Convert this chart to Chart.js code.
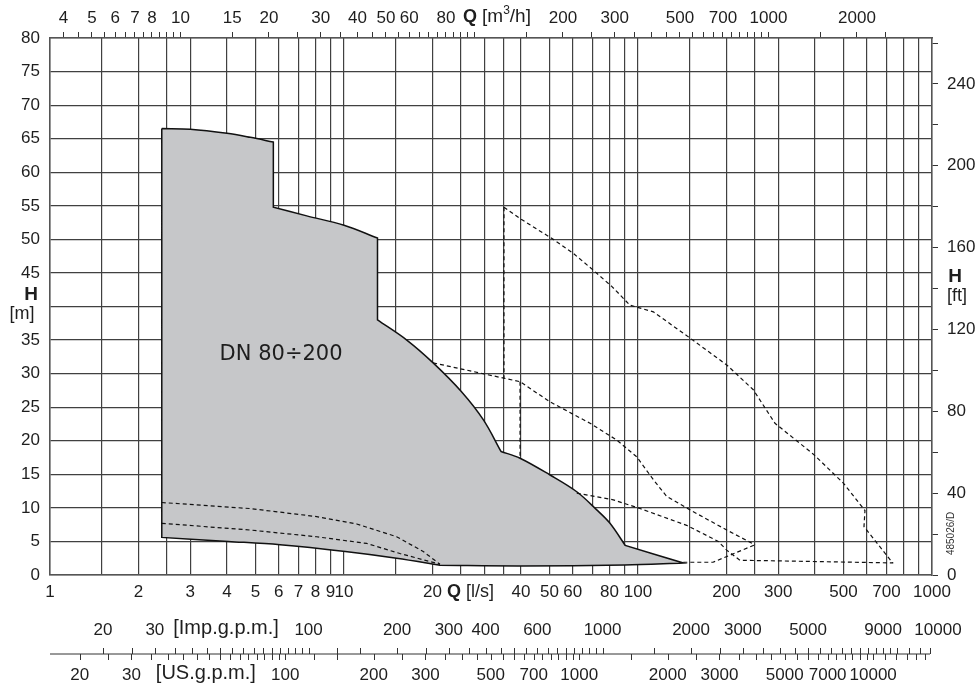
<!DOCTYPE html>
<html>
<head>
<meta charset="utf-8">
<title>DN 80÷200</title>
<script src="https://cdn.jsdelivr.net/npm/chart.js@4.4.1/dist/chart.umd.min.js"></script>
<style>
  body { margin: 0; background: #fff; }
  canvas { display: block; }
</style>
</head>
<body>
<canvas id="chart" width="978" height="691"></canvas>
<script>
// conversion factors from l/s
const M3H_PER_LS = 3.6;
const IMP_PER_LS = 13.198;
const US_PER_LS = 15.850;
const FT_PER_M = 1 / 0.3048;

// shaded range DN 80÷200, edge by edge (clockwise, corners between edges stay sharp)
const edgeTopQ = [2.4, 3.0, 4.0, 4.8, 5.75];
const edgeTopH = [66.5, 66.4, 65.8, 65.2, 64.5];
const edgeMidQ = [5.75, 7.47, 10.0, 13.0];
const edgeMidH = [54.8, 53.5, 52.1, 50.2];
const edgeFallQ = [13.0, 16.35, 20.1, 25.1, 29.8, 34.2];
const edgeFallH = [38.0, 35.0, 31.6, 27.3, 23.1, 18.4];
const edgeTailQ = [34.2, 39.7, 50.2, 61.9, 72.4, 80.3, 90.5];
const edgeTailH = [18.4, 17.4, 14.9, 12.4, 9.7, 7.7, 4.4];
const edgeFootQ = [90.5, 142.6];
const edgeFootH = [4.4, 1.8];
const edgeBottomQ = [142.6, 90.0, 40.0, 21.2];
const edgeBottomH = [1.8, 1.5, 1.35, 1.45];
const edgeBaseQ = [21.2, 15.1, 10.1, 6.06, 4.04, 2.4];
const edgeBaseH = [1.45, 2.5, 3.5, 4.5, 5.0, 5.6];

// dashed curves
const innerUpperQ = [2.4, 4.79, 8.07, 11.05, 15.1, 18.6, 21.2];
const innerUpperH = [10.8, 9.9, 8.7, 7.6, 5.7, 3.5, 1.6];
const innerLowerQ = [2.4, 4.79, 8.07, 11.95, 15.5, 21.2];
const innerLowerH = [7.7, 6.7, 5.7, 4.7, 3.2, 1.6];
const bigVertQ = [35, 35];
const bigVertH = [54.8, 29.2];
const bigQ = [35, 39.7, 51.5, 60.3, 70.5, 81.4, 93.9, 112.8, 150.3, 200.3, 246.7, 292.4, 394.8, 499.3, 591.6, 587, 735];
const bigH = [54.8, 53.1, 50.0, 47.9, 45.4, 43.0, 40.2, 39.2, 35.3, 31.3, 27.6, 22.6, 18.0, 13.7, 9.6, 7.2, 1.8];
const midQ = [20.1, 39.7, 50.2, 68.7, 84.7, 99.0, 112.8, 125.2, 150.3, 200.3, 250];
const midH = [31.6, 28.8, 25.8, 22.6, 20.1, 17.6, 14.2, 11.7, 9.7, 6.7, 4.5];
const midVertQ = [39.7, 39.7];
const midVertH = [28.8, 17.4];
const lowQ = [61.9, 82.4, 101.6, 146.4, 187.6, 200.3, 222.3, 738.6];
const lowH = [12.2, 11.2, 9.9, 7.4, 5.0, 3.7, 2.2, 1.8];
const tipQ = [142.6, 179.9, 250];
const tipH = [1.9, 1.9, 4.5];

// axes: tick labels
const lsLabels = [1, 2, 3, 4, 5, 6, 7, 8, 9, 10, 20, 40, 50, 60, 80, 100, 200, 300, 500, 700, 1000];
const lsGrid = [1, 1.5, 2, 2.5, 3, 4, 5, 6, 7, 8, 9, 10, 15, 20, 25, 30, 35, 40, 50, 60, 70, 80, 90,
                100, 150, 200, 250, 300, 400, 500, 600, 700, 800, 900, 1000];
const m3hLabels = [4, 5, 6, 7, 8, 10, 15, 20, 30, 40, 50, 60, 80, 200, 300, 500, 700, 1000, 2000];
const impLabels = [20, 30, 100, 200, 300, 400, 600, 1000, 2000, 3000, 5000, 9000, 10000];
const usLabels = [20, 30, 100, 200, 300, 500, 700, 1000, 2000, 3000, 5000, 7000, 10000];
const ftLabels = [0, 40, 80, 120, 160, 200, 240];

function steps(from, to, step) {
    const out = [];
    for (let v = from; v <= to + 1e-9; v += step) out.push(+v.toFixed(3));
    return out;
}
const m3hTicks = [].concat(steps(4, 10, 0.5), steps(15, 100, 5), steps(150, 1000, 50), [1500, 2000, 2500]);
const impTicks = [].concat(steps(20, 100, 5), [125], steps(150, 1000, 50), steps(1500, 10000, 500), [11000, 12000, 13000]);
const usTicks = [].concat(steps(20, 100, 5), [125], steps(150, 1000, 50), steps(1500, 10000, 500), steps(11000, 15000, 1000));
const hTicks = steps(0, 80, 2.5);
const ftTicks = steps(0, 260, 20);

const TXT = '#1e1e1e';
const GRID = '#404040';
const tickFont = { family: "'Liberation Sans', Arial, sans-serif", size: 17 };

function toPoints(qs, hs) {
    return qs.map(function (q, i) { return { x: q, y: hs[i] }; });
}
// join edges; end points are doubled so the spline keeps the corners sharp
function outline(edges) {
    let pts = [];
    edges.forEach(function (e) {
        const p = toPoints(e[0], e[1]);
        pts = pts.concat([p[0]], p, [p[p.length - 1]]);
    });
    return pts;
}
function dashed(qs, hs) {
    return {
        data: toPoints(qs, hs),
        showLine: true,
        borderColor: '#111',
        borderWidth: 1.2,
        borderDash: [4, 3],
        pointRadius: 0,
        fill: false,
    };
}

const overlay = {
    id: 'overlay',
    afterDraw(chart) {
        const ctx = chart.ctx;
        const x = chart.scales.x;
        const y = chart.scales.y;
        const area = chart.chartArea;
        const px = function (ls) { return x.getPixelForValue(ls); };
        ctx.save();
        ctx.fillStyle = TXT;
        ctx.textBaseline = 'middle';

        // range label
        ctx.font = "21px 'DejaVu Sans', sans-serif";
        ctx.textAlign = 'center';
        ctx.fillText('DN 80÷200', px(6.11), y.getPixelForValue(32.8));

        // axis titles
        ctx.font = "bold 19px 'Liberation Sans', Arial, sans-serif";
        ctx.fillText('H', 31, y.getPixelForValue(41.7));
        ctx.fillText('H', 955, y.getPixelForValue(44.4));
        ctx.font = "18px 'Liberation Sans', Arial, sans-serif";
        ctx.fillText('[m]', 22, y.getPixelForValue(38.9));
        ctx.fillText('[ft]', 957, y.getPixelForValue(41.6));

        // Q units top and bottom
        ctx.textAlign = 'left';
        let qx = px(25.4);
        ctx.font = "bold 18px 'Liberation Sans', Arial, sans-serif";
        ctx.fillText('Q', qx, 17);
        qx += ctx.measureText('Q').width + 5;
        ctx.font = "19px 'Liberation Sans', Arial, sans-serif";
        ctx.fillText('[m', qx, 17);
        qx += ctx.measureText('[m').width;
        ctx.font = "12px 'Liberation Sans', Arial, sans-serif";
        ctx.fillText('3', qx, 11);
        qx += ctx.measureText('3').width;
        ctx.font = "19px 'Liberation Sans', Arial, sans-serif";
        ctx.fillText('/h]', qx, 17);

        qx = px(22.4);
        ctx.font = "bold 18px 'Liberation Sans', Arial, sans-serif";
        ctx.fillText('Q', qx, 592);
        qx += ctx.measureText('Q').width + 5;
        ctx.font = "18px 'Liberation Sans', Arial, sans-serif";
        ctx.fillText('[l/s]', qx, 592);

        // gallon per minute scales
        const lineY = 654;
        ctx.strokeStyle = '#333';
        ctx.lineWidth = 1;
        ctx.beginPath();
        ctx.moveTo(area.left, lineY);
        ctx.lineTo(area.right - 2, lineY);
        impTicks.forEach(function (v) {
            const t = Math.round(px(v / IMP_PER_LS)) + 0.5;
            ctx.moveTo(t, lineY - 6);
            ctx.lineTo(t, lineY);
        });
        usTicks.forEach(function (v) {
            const t = Math.round(px(v / US_PER_LS)) + 0.5;
            ctx.moveTo(t, lineY);
            ctx.lineTo(t, lineY + 6);
        });
        ctx.stroke();

        ctx.font = "17px 'Liberation Sans', Arial, sans-serif";
        ctx.textAlign = 'center';
        impLabels.forEach(function (v, i) {
            let cx = px(v / IMP_PER_LS);
            if (i === impLabels.length - 1) cx = area.right + 6;
            ctx.fillText(String(v), cx, 630);
        });
        usLabels.forEach(function (v) {
            ctx.fillText(String(v), px(v / US_PER_LS), 675);
        });
        ctx.font = "20px 'Liberation Sans', Arial, sans-serif";
        ctx.fillText('[Imp.g.p.m.]', px(3.97), 628);
        ctx.fillText('[US.g.p.m.]', px(3.39), 673);

        // drawing number
        ctx.save();
        ctx.translate(951, y.getPixelForValue(6.2));
        ctx.rotate(-Math.PI / 2);
        ctx.font = "10px 'Liberation Sans', Arial, sans-serif";
        ctx.fillStyle = '#333';
        ctx.fillText('485026/D', 0, 0);
        ctx.restore();

        ctx.restore();
    }
};

document.addEventListener('DOMContentLoaded', function () {
    const ctx = document.getElementById('chart');
    new Chart(ctx, {
        type: 'scatter',
        data: {
            datasets: [
                dashed(innerUpperQ, innerUpperH),
                dashed(innerLowerQ, innerLowerH),
                dashed(bigVertQ, bigVertH),
                dashed(bigQ, bigH),
                dashed(midQ, midH),
                dashed(midVertQ, midVertH),
                dashed(lowQ, lowH),
                dashed(tipQ, tipH),
                {
                    data: outline([
                        [edgeTopQ, edgeTopH],
                        [edgeMidQ, edgeMidH],
                        [edgeFallQ, edgeFallH],
                        [edgeTailQ, edgeTailH],
                        [edgeFootQ, edgeFootH],
                        [edgeBottomQ, edgeBottomH],
                        [edgeBaseQ, edgeBaseH],
                        [[edgeTopQ[0]], [edgeTopH[0]]],
                    ]),
                    showLine: true,
                    tension: 0.35,
                    borderColor: '#111',
                    borderWidth: 1.5,
                    backgroundColor: '#c6c7c9',
                    pointRadius: 0,
                    fill: 'shape',
                },
            ],
        },
        options: {
            responsive: false,
            animation: false,
            devicePixelRatio: 1,
            layout: { padding: 0 },
            plugins: {
                legend: { display: false },
                tooltip: { enabled: false },
            },
            scales: {
                x: {
                    type: 'logarithmic',
                    position: 'bottom',
                    min: 1,
                    max: 1000,
                    afterBuildTicks: function (s) { s.ticks = lsGrid.map(function (v) { return { value: v }; }); },
                    afterFit: function (s) { s.height = 116; },
                    ticks: {
                        autoSkip: false,
                        maxRotation: 0,
                        padding: 7,
                        color: TXT,
                        font: tickFont,
                        callback: function (v) { return lsLabels.includes(v) ? String(v) : ''; },
                    },
                    grid: { color: GRID, lineWidth: 1.2, drawTicks: false },
                    border: { color: '#555', width: 1.5 },
                },
                x2: {
                    type: 'logarithmic',
                    position: 'top',
                    min: M3H_PER_LS,
                    max: 1000 * M3H_PER_LS,
                    afterBuildTicks: function (s) { s.ticks = m3hTicks.map(function (v) { return { value: v }; }); },
                    afterFit: function (s) { s.height = 38; },
                    ticks: {
                        autoSkip: false,
                        maxRotation: 0,
                        padding: 3,
                        color: TXT,
                        font: tickFont,
                        callback: function (v) { return m3hLabels.includes(v) ? String(v) : ''; },
                    },
                    grid: { drawOnChartArea: false, color: '#333', tickLength: 6 },
                    border: { color: '#555', width: 1.5 },
                },
                y: {
                    type: 'linear',
                    position: 'left',
                    min: 0,
                    max: 80,
                    afterBuildTicks: function (s) { s.ticks = hTicks.map(function (v) { return { value: v }; }); },
                    afterFit: function (s) { s.width = 50; },
                    ticks: {
                        padding: 10,
                        color: TXT,
                        font: tickFont,
                        callback: function (v) { return (v % 5 === 0 && v !== 40) ? String(v) : ''; },
                    },
                    grid: { color: GRID, lineWidth: 1.2, drawTicks: false },
                    border: { color: '#555', width: 1.5 },
                },
                y2: {
                    type: 'linear',
                    position: 'right',
                    min: 0,
                    max: 80 * FT_PER_M,
                    afterBuildTicks: function (s) { s.ticks = ftTicks.map(function (v) { return { value: v }; }); },
                    afterFit: function (s) { s.width = 46; },
                    ticks: {
                        padding: 9,
                        color: TXT,
                        font: tickFont,
                        callback: function (v) { return ftLabels.includes(v) ? String(v) : ''; },
                    },
                    grid: { drawOnChartArea: false, color: '#333', tickLength: 6 },
                    border: { color: '#555', width: 1.5 },
                },
            },
        },
        plugins: [overlay],
    });
});
</script>
</body>
</html>
